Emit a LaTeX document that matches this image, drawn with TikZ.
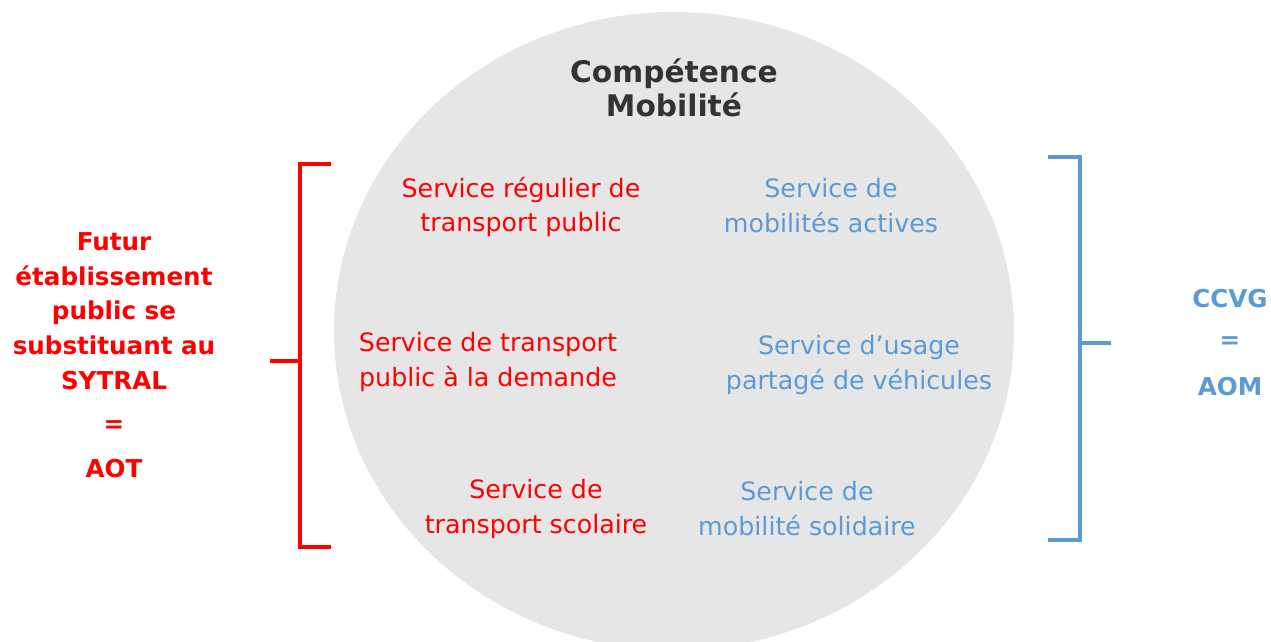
\documentclass[tikz,border=0pt]{standalone}
\usepackage{fontspec}
\setmainfont{DejaVu Sans}
\definecolor{aotred}{RGB}{255,0,0}
\definecolor{aomblue}{RGB}{91,155,213}
\definecolor{discgray}{RGB}{230,230,230}
\definecolor{titlegray}{RGB}{51,51,51}
\tikzset{
  service/.style={align=center, font=\fontsize{14.4}{19.9}\selectfont},
  redservice/.style={service, text=aotred},
  blueservice/.style={service, text=aomblue},
  sidelabel/.style={align=center, font=\bfseries\fontsize{14}{19.7}\selectfont},
  bracketline/.style={line width=2.2pt}
}
\begin{document}
\begin{tikzpicture}[x=0.02cm, y=-0.02cm]
    \useasboundingbox (0,0) rectangle (1271,642);
    \clip (0,0) rectangle (1271,642);

    % Gray disc
    \fill[discgray] (674,331) ellipse [x radius=340, y radius=319];
    \node[font=\bfseries\fontsize{16.9}{19.3}\selectfont, text=titlegray, align=center] (title) at (674,88) {Compétence\\Mobilité};

    % Services of the AOT (red)
    \node[redservice] (regular) at (521,207) {Service régulier de\\transport public};
    \node[redservice] (demand) at (488,362) {Service de transport\\public à la demande};
    \node[redservice] (school) at (536,509) {Service de\\transport scolaire};

    % Services of the AOM (blue)
    \node[blueservice] (active) at (831,206) {Service de\\mobilités actives};
    \node[blueservice] (shared) at (859,365) {Service d’usage\\partagé de véhicules};
    \node[blueservice] (solidary) at (807,509) {Service de\\mobilité solidaire};

    % Left bracket
    \draw[aotred, bracketline] (331,164) -- (300,164) -- (300,547) -- (331,547);
    \draw[aotred, bracketline] (300,361) -- (270,361);
    \node[sidelabel, text=aotred] (aotname) at (114,311) {Futur\\établissement\\public se\\substituant au\\SYTRAL};
    \node[sidelabel, text=aotred] (aoteq) at (114,427) {=};
    \node[sidelabel, text=aotred] (aot) at (114,469) {AOT};

    % Right bracket
    \draw[aomblue, bracketline] (1048,157) -- (1080,157) -- (1080,540) -- (1048,540);
    \draw[aomblue, bracketline] (1080,343) -- (1111,343);
    \node[sidelabel, text=aomblue] (aomname) at (1230,299) {CCVG};
    \node[sidelabel, text=aomblue] (aomeq) at (1230,343) {=};
    \node[sidelabel, text=aomblue] (aom) at (1230,387) {AOM};
\end{tikzpicture}
\end{document}
